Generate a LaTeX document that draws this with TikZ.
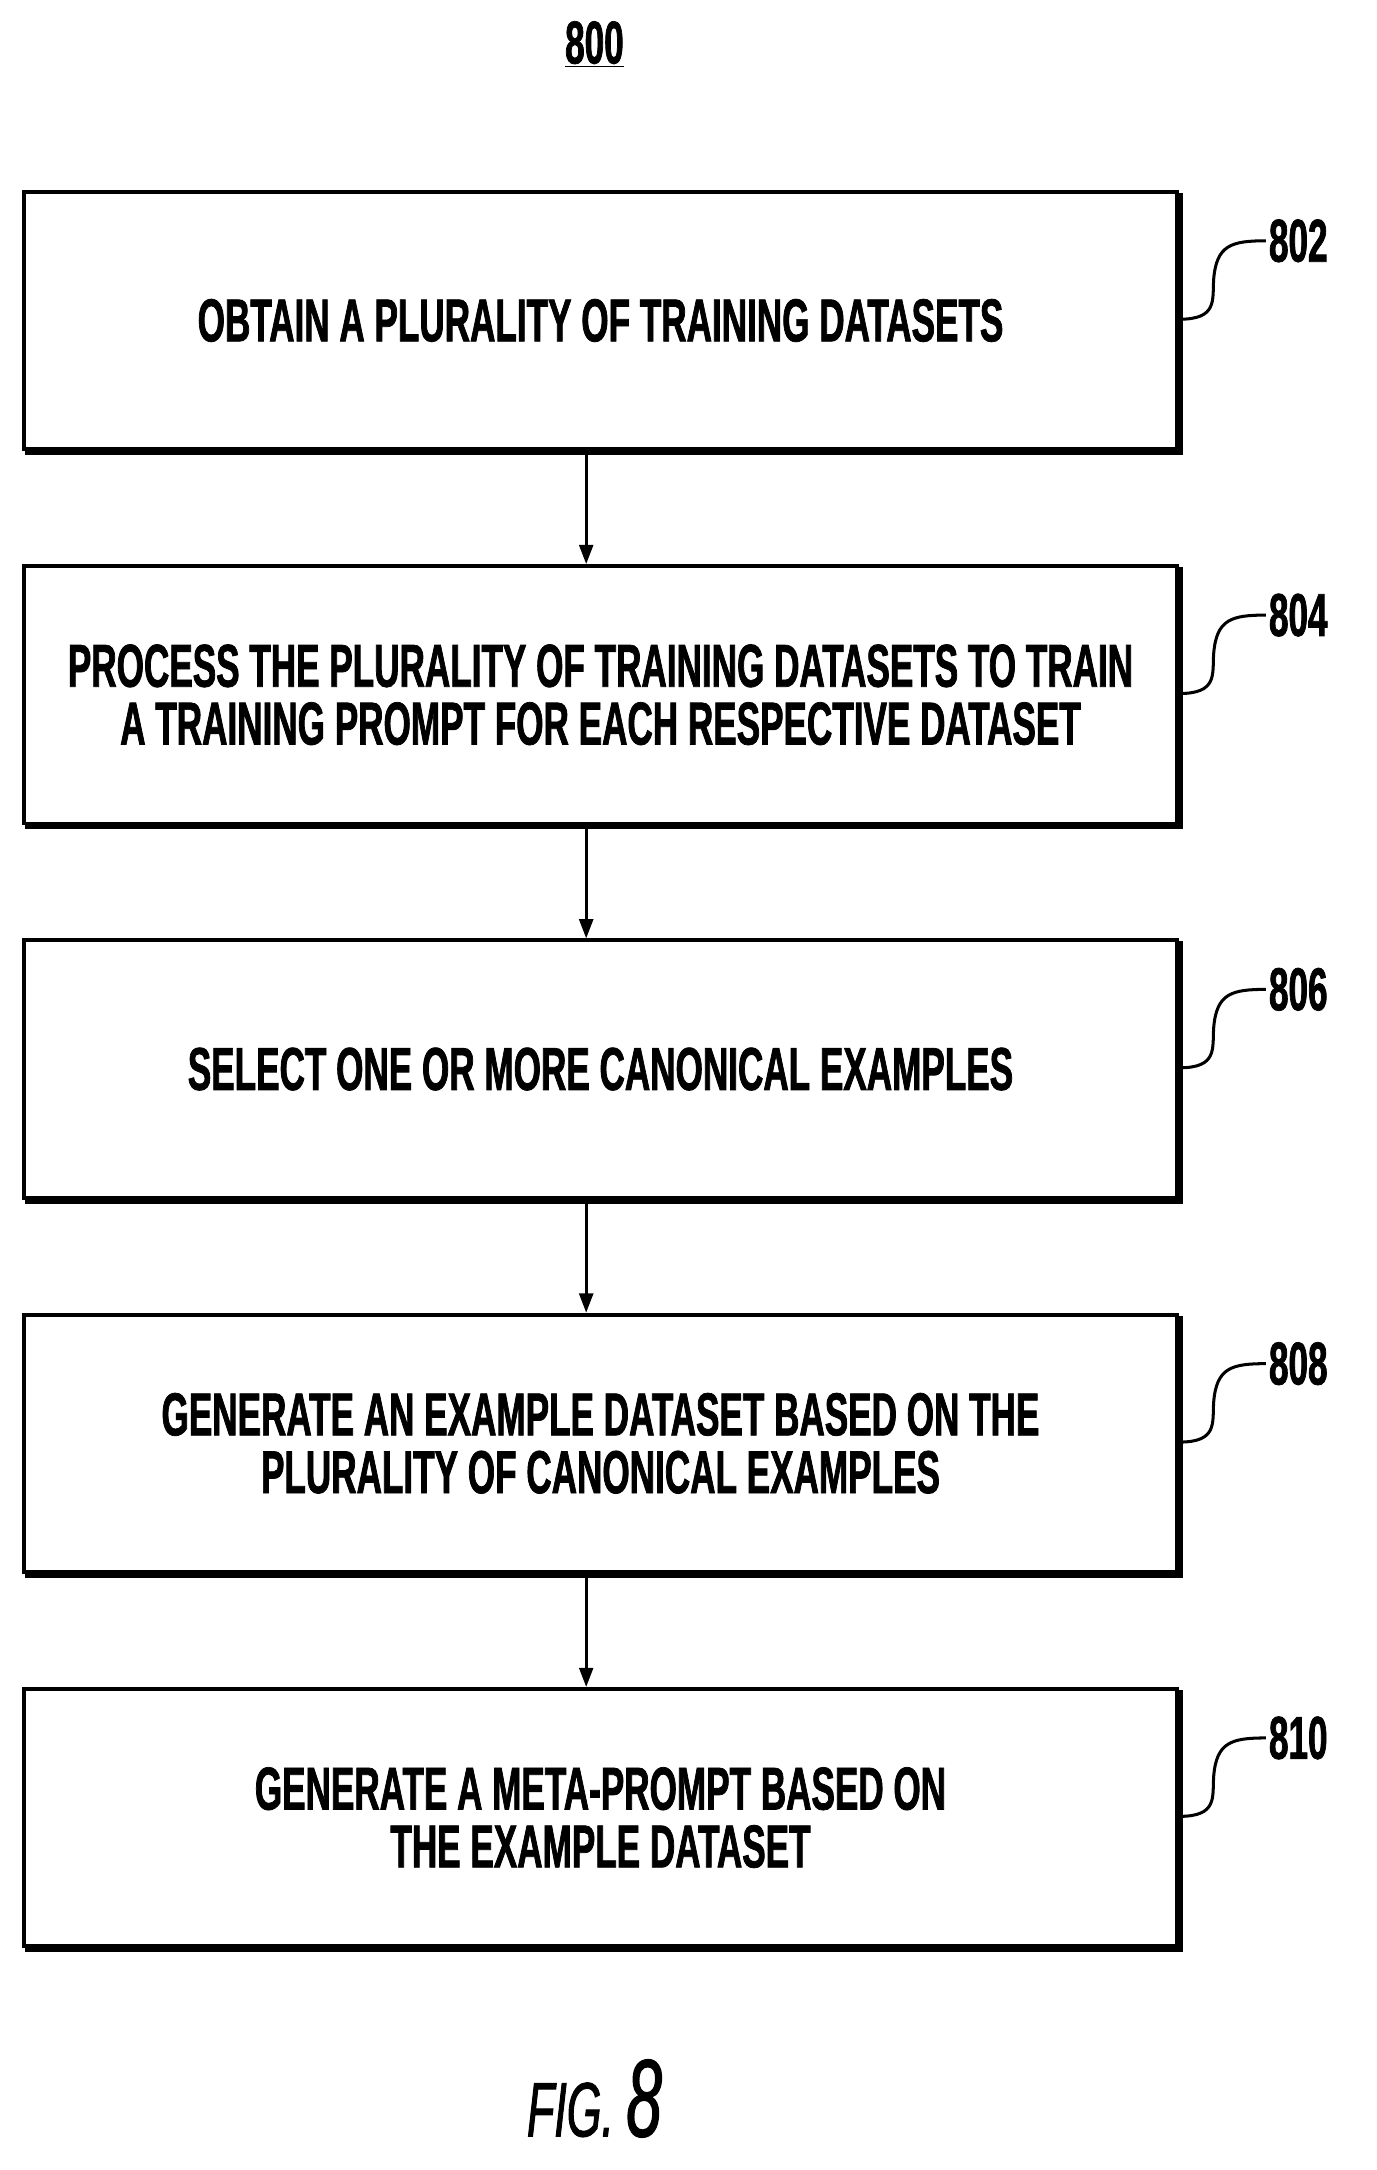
\documentclass[tikz,border=0pt]{standalone}
\usepackage{fontspec}
\setmainfont[FakeStretch=0.58,FakeBold=1.2]{Liberation Sans}
\usetikzlibrary{arrows.meta}
\begin{document}
\begin{tikzpicture}[x=1pt,y=-1pt,
  stepbox/.style={draw,line width=2.8pt,minimum width=838pt,minimum height=187pt,anchor=north west,inner sep=0pt,align=center,font=\fontsize{44}{42}\selectfont\bfseries},
  shadowline/.style={line width=3pt},
  lbl/.style={font=\fontsize{44}{44}\selectfont\bfseries,anchor=west,inner sep=2pt},
  lead/.style={line width=2.2pt},
  conn/.style={line width=2.2pt,-{Triangle[length=14pt,width=10pt]}}]
\useasboundingbox (0,0) rectangle (1000,1577);
\node[font=\fontsize{44}{44}\selectfont\bfseries] (t800) at (432,32) {\underline{800}};
\foreach \i/\n/\t in {0/802/OBTAIN A PLURALITY OF TRAINING DATASETS,
 1/804/{PROCESS THE PLURALITY OF TRAINING DATASETS TO TRAIN\\A TRAINING PROMPT FOR EACH RESPECTIVE DATASET},
 2/806/SELECT ONE OR MORE CANONICAL EXAMPLES,
 3/808/{GENERATE AN EXAMPLE DATASET BASED ON THE\\PLURALITY OF CANONICAL EXAMPLES},
 4/810/{GENERATE A META-PROMPT BASED ON\\THE EXAMPLE DATASET}}{
  \pgfmathsetmacro{\yy}{138+272*\i}
  \node[stepbox] (b\n) at (16,\yy) {\t};
  \draw[shadowline] ([xshift=1.5pt,yshift=-2pt]b\n.north east) -- ([xshift=1.5pt,yshift=-1.5pt]b\n.south east) -- ([xshift=2pt,yshift=-1.5pt]b\n.south west);
  \coordinate (s\n) at (857,\yy+94);
  \node[lbl] (l\n) at (920,\yy+37) {\n};
  \draw[lead] (s\n) .. controls (885,\yy+94) and (881,\yy+80) .. (882,\yy+65) .. controls (884,\yy+40) and (895,\yy+37) .. (l\n.west);
}
\foreach \a/\b in {802/804,804/806,806/808,808/810}
  \draw[conn] ([yshift=-3pt]b\a.south -| 426,0) -- (b\b.north -| 426,0);
\node (fig) at (432,1525) {\itshape\fontsize{56}{56}\selectfont FIG. \fontsize{80}{80}\selectfont 8};
\end{tikzpicture}
\end{document}
